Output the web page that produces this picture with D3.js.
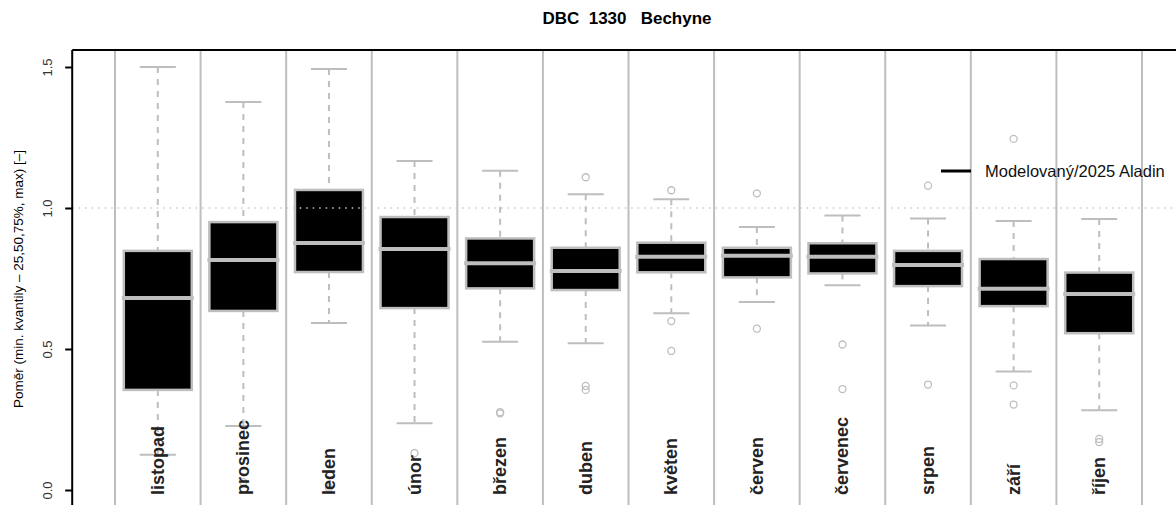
<!DOCTYPE html>
<html>
<head>
<meta charset="utf-8">
<script src="https://cdn.jsdelivr.net/npm/d3@7"></script>
<style>
  body { margin: 0; background: #fff; }
  svg { display: block; font-family: "Liberation Sans", Arial, sans-serif; }
</style>
</head>
<body>
<div id="chart"></div>
<script>
// months (hydrological year, Nov -> Oct)
const months = ["listopad", "prosinec", "leden", "únor", "březen", "duben",
                "květen", "červen", "červenec", "srpen", "září", "říjen"];

// box statistics
const whiskerLow  = [0.125, 0.227, 0.592, 0.237, 0.526, 0.520, 0.627, 0.667, 0.726, 0.583, 0.420, 0.283];
const quart1      = [0.355, 0.635, 0.773, 0.645, 0.715, 0.709, 0.772, 0.754, 0.768, 0.723, 0.652, 0.556];
const medians     = [0.681, 0.816, 0.876, 0.855, 0.804, 0.777, 0.827, 0.831, 0.827, 0.798, 0.714, 0.695];
const quart3      = [0.848, 0.950, 1.064, 0.968, 0.892, 0.859, 0.877, 0.859, 0.875, 0.848, 0.819, 0.771];
const whiskerHigh = [1.500, 1.376, 1.493, 1.167, 1.132, 1.049, 1.031, 0.933, 0.973, 0.963, 0.954, 0.961];
const outliers    = [[], [0.028], [0.008], [0.131], [0.272, 0.276], [1.109, 0.369, 0.355],
                     [1.063, 0.599, 0.493], [1.052, 0.572], [0.516, 0.358], [1.079, 0.374],
                     [1.245, 0.371, 0.303], [0.181, 0.170]];

const yTicks = [0, 0.5, 1.0, 1.5];

const width = 1176, height = 505;
const grey = "#bebebe";

const svg = d3.select("#chart").append("svg")
  .attr("width", width)
  .attr("height", height);

svg.append("rect")
  .attr("width", width)
  .attr("height", height)
  .attr("fill", "#fff");

// scales
const x = d3.scaleLinear().domain([0.5, 12.5]).range([115, 1142]);
const y = d3.scaleLinear().domain([0, 1.5]).range([490, 67]);

const plotLeft = x(0), plotTop = 50, plotRight = 1220, plotBottom = 540;

// month separators
svg.append("g")
  .selectAll("line")
  .data(d3.range(0, 13))
  .enter().append("line")
    .attr("x1", d => x(d + 0.5))
    .attr("x2", d => x(d + 0.5))
    .attr("y1", plotTop)
    .attr("y2", plotBottom)
    .style("stroke", grey)
    .style("stroke-width", 2);

const halfBox = 34, halfCap = 18;

const boxes = svg.append("g")
  .selectAll("g")
  .data(months)
  .enter().append("g")
    .attr("transform", (d, i) => `translate(${x(i + 1)},0)`);

// whiskers (dashed)
boxes.append("line")
  .attr("y1", (d, i) => y(whiskerHigh[i]))
  .attr("y2", (d, i) => y(quart3[i]))
  .style("stroke", grey).style("stroke-width", 2).style("stroke-dasharray", "6,6");
boxes.append("line")
  .attr("y1", (d, i) => y(quart1[i]))
  .attr("y2", (d, i) => y(whiskerLow[i]))
  .style("stroke", grey).style("stroke-width", 2).style("stroke-dasharray", "6,6");

// caps
boxes.append("line")
  .attr("x1", -halfCap).attr("x2", halfCap)
  .attr("y1", (d, i) => y(whiskerHigh[i])).attr("y2", (d, i) => y(whiskerHigh[i]))
  .style("stroke", grey).style("stroke-width", 2);
boxes.append("line")
  .attr("x1", -halfCap).attr("x2", halfCap)
  .attr("y1", (d, i) => y(whiskerLow[i])).attr("y2", (d, i) => y(whiskerLow[i]))
  .style("stroke", grey).style("stroke-width", 2);

// box
boxes.append("rect")
  .attr("x", -halfBox)
  .attr("width", halfBox * 2)
  .attr("y", (d, i) => y(quart3[i]))
  .attr("height", (d, i) => y(quart1[i]) - y(quart3[i]))
  .attr("fill", "#000")
  .style("stroke", grey)
  .style("stroke-width", 2.5);

// median
boxes.append("line")
  .attr("x1", -halfBox - 2).attr("x2", halfBox + 2)
  .attr("y1", (d, i) => y(medians[i])).attr("y2", (d, i) => y(medians[i]))
  .style("stroke", grey).style("stroke-width", 4);

// outliers
boxes.selectAll("circle")
  .data((d, i) => outliers[i])
  .enter().append("circle")
    .attr("cy", d => y(d))
    .attr("r", 3.5)
    .attr("fill", "none")
    .style("stroke", grey)
    .style("stroke-width", 1.3);

// reference line at 1.0
svg.append("line")
  .attr("x1", plotLeft).attr("x2", plotRight)
  .attr("y1", y(1)).attr("y2", y(1))
  .style("stroke", "#c8c8c8")
  .style("stroke-width", 1.5)
  .style("stroke-dasharray", "1.5,5");

// month labels, drawn inside the plot
boxes.append("text")
  .attr("transform", "translate(6,495) rotate(-90)")
  .attr("text-anchor", "start")
  .style("font-size", "18px")
  .style("font-weight", "bold")
  .attr("fill", "#222")
  .text(d => d);

// frame: top border and left axis
svg.append("line")
  .attr("x1", plotLeft).attr("x2", plotRight)
  .attr("y1", plotTop).attr("y2", plotTop)
  .style("stroke", "#000").style("stroke-width", 2);

const yAxis = svg.append("g")
  .attr("transform", `translate(${plotLeft},0)`)
  .call(d3.axisLeft(y).tickValues(yTicks).tickSize(7).tickFormat(d3.format(".1f")));
yAxis.select(".domain").remove();
yAxis.append("line")
  .attr("y1", plotTop).attr("y2", plotBottom)
  .style("stroke", "#000").style("stroke-width", 2);
yAxis.selectAll(".tick line").style("stroke", "#000").style("stroke-width", 2);
yAxis.selectAll(".tick text")
  .attr("x", null).attr("dy", null)
  .attr("transform", "translate(-20,0) rotate(-90)")
  .attr("text-anchor", "middle")
  .attr("fill", "#333")
  .style("font-size", "13px")
  .style("font-family", "Liberation Sans, Arial, sans-serif");

// y axis title
svg.append("text")
  .attr("transform", "translate(23,279) rotate(-90)")
  .attr("text-anchor", "middle")
  .style("font-size", "13.5px")
  .attr("fill", "#000")
  .text("Poměr (min. kvantily – 25,50,75%, max) [–]");

// title
svg.append("text")
  .attr("x", 627)
  .attr("y", 24)
  .attr("text-anchor", "middle")
  .style("font-size", "17px")
  .style("font-weight", "bold")
  .style("white-space", "pre")
  .attr("xml:space", "preserve")
  .text("DBC  1330   Bechyne");

// legend
svg.append("line")
  .attr("x1", 941).attr("x2", 971)
  .attr("y1", 171).attr("y2", 171)
  .style("stroke", "#000").style("stroke-width", 3);
svg.append("text")
  .attr("x", 985)
  .attr("y", 177)
  .style("font-size", "16.5px")
  .attr("fill", "#111")
  .text("Modelovaný/2025 Aladin");
</script>
</body>
</html>
